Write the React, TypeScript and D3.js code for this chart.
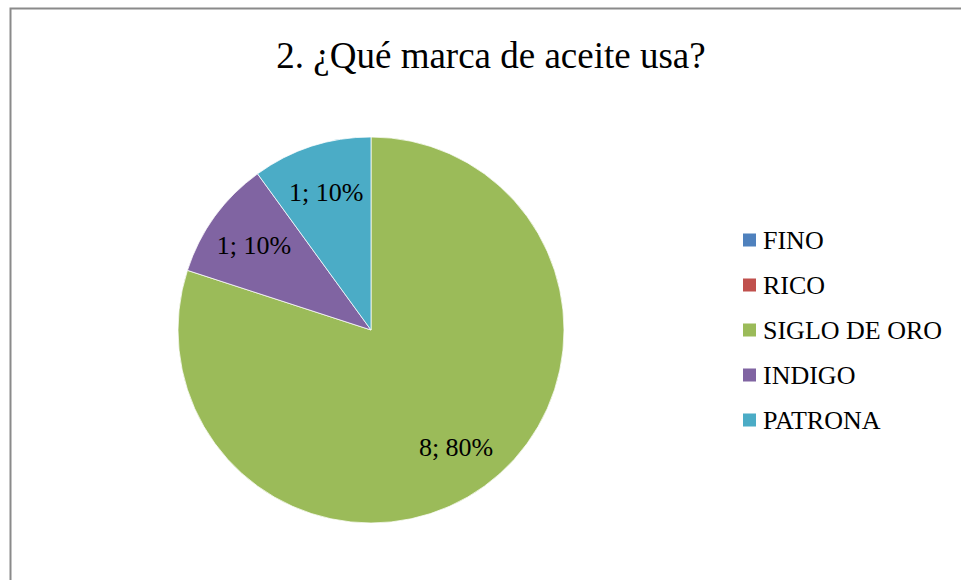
import React, { useEffect, useRef } from 'react';
import * as d3 from 'd3';

const brands = ['FINO', 'RICO', 'SIGLO DE ORO', 'INDIGO', 'PATRONA'];
const counts = [0, 0, 8, 1, 1];
const colors = ['#4F81BD', '#C0504D', '#9BBB59', '#8064A2', '#4BACC6'];
const title = '2. ¿Qué marca de aceite usa?';

const App = () => {
  const ref = useRef<SVGSVGElement>(null);

  useEffect(() => {
    const svg = d3.select(ref.current);
    svg.selectAll('*').remove();

    const width = 961;
    const height = 580;
    const cx = 371;
    const cy = 330;
    const radius = 193;
    const font = '"Liberation Serif", "Times New Roman", serif';

    svg.attr('width', width).attr('height', height);

    // Chart area frame (runs past the right and bottom edges)
    svg.append('rect')
      .attr('x', 10.5)
      .attr('y', 8.5)
      .attr('width', 1000)
      .attr('height', 700)
      .attr('fill', '#fff')
      .attr('stroke', '#8a8a8a')
      .attr('stroke-width', 2);

    svg.append('text')
      .attr('x', 491)
      .attr('y', 68)
      .attr('text-anchor', 'middle')
      .attr('font-family', font)
      .attr('font-size', 37)
      .attr('fill', '#000')
      .text(title);

    const total = d3.sum(counts);
    const data = brands.map((b, i) => ({ brand: b, value: counts[i], color: colors[i] }));

    const pie = d3.pie<any>()
      .value(d => d.value)
      .sort(null);
    const arcs = pie(data);

    const arc = d3.arc<any>().innerRadius(0).outerRadius(radius);
    const labelArc = d3.arc<any>().innerRadius(radius * 0.75).outerRadius(radius * 0.75);

    const g = svg.append('g').attr('transform', `translate(${cx},${cy})`);

    g.selectAll('path')
      .data(arcs.filter(a => a.data.value > 0))
      .enter().append('path')
      .attr('d', arc)
      .attr('fill', d => d.data.color)
      .attr('stroke', '#fff')
      .attr('stroke-width', 0.75);

    g.selectAll('text')
      .data(arcs.filter(a => a.data.value > 0))
      .enter().append('text')
      .attr('transform', d => {
        const [x, y] = labelArc.centroid(d);
        return `translate(${x},${y})`;
      })
      .attr('text-anchor', 'middle')
      .attr('dy', '0.35em')
      .attr('font-family', font)
      .attr('font-size', 26)
      .attr('fill', '#000')
      .text(d => `${d.data.value}; ${Math.round((d.data.value / total) * 100)}%`);

    // Legend
    const legendY = d3.scalePoint<string>()
      .domain(brands)
      .range([240, 420]);

    const legend = svg.append('g');
    const rows = legend.selectAll('g')
      .data(data)
      .enter().append('g')
      .attr('transform', d => `translate(743,${legendY(d.brand)})`);

    rows.append('rect')
      .attr('x', 0)
      .attr('y', -6.5)
      .attr('width', 13)
      .attr('height', 13)
      .attr('fill', d => d.color);

    rows.append('text')
      .attr('x', 20)
      .attr('y', 0)
      .attr('dy', '0.35em')
      .attr('font-family', font)
      .attr('font-size', 26)
      .attr('fill', '#000')
      .text(d => d.brand);
  }, []);

  return (
    <svg ref={ref} style={{ position: 'absolute', left: 0, top: 0 }}></svg>
  );
};

export default App;
